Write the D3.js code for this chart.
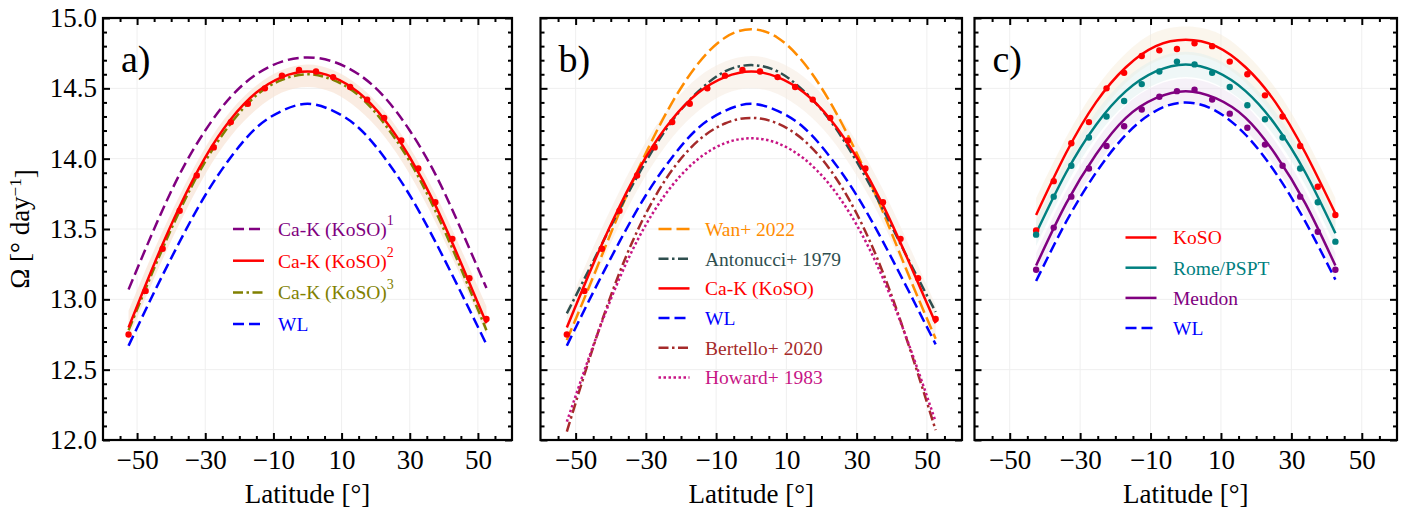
<!DOCTYPE html>
<html>
<head>
<meta charset="utf-8">
<script src="https://cdn.jsdelivr.net/npm/d3@7"></script>
<style>
  body { margin: 0; background: #fff; }
</style>
</head>
<body>
<svg id="chart" width="1409" height="512" font-family="Liberation Serif"></svg>
<script>
// ---- data ----
const latAB = [-52.5, -45, -37.5, -30, -22.5, -15, -7.5, 0, 7.5, 15, 22.5, 30, 37.5, 45, 52.5];
const latC = [-42.5, -34, -25.5, -17, -8.5, 0, 8.5, 17, 25.5, 34, 42.5];

const kosoFit1 = [13.07, 13.50, 13.89, 14.20, 14.44, 14.60, 14.69, 14.72, 14.69, 14.60, 14.44, 14.20, 13.89, 13.50, 13.08];
const kosoFit2 = [12.80, 13.25, 13.66, 14.01, 14.28, 14.47, 14.58, 14.62, 14.58, 14.47, 14.28, 14.01, 13.67, 13.26, 12.83];
const kosoFit3 = [12.78, 13.22, 13.63, 13.98, 14.25, 14.45, 14.56, 14.60, 14.56, 14.45, 14.25, 13.98, 13.63, 13.22, 12.78];
const wlFit = [12.67, 13.05, 13.41, 13.74, 14.01, 14.22, 14.34, 14.39, 14.34, 14.22, 14.01, 13.74, 13.41, 13.05, 12.68];
const kosoBandHiA = [12.92, 13.35, 13.74, 14.08, 14.34, 14.52, 14.63, 14.67, 14.63, 14.52, 14.34, 14.08, 13.75, 13.36, 12.95];
const kosoBandLoA = [12.72, 13.15, 13.54, 13.89, 14.16, 14.35, 14.47, 14.51, 14.47, 14.35, 14.16, 13.89, 13.55, 13.16, 12.75];

const wan2022 = [12.71, 13.16, 13.62, 14.04, 14.40, 14.68, 14.86, 14.92, 14.86, 14.68, 14.40, 14.04, 13.62, 13.16, 12.72];
const antonucci1979 = [12.90, 13.27, 13.64, 13.98, 14.27, 14.48, 14.62, 14.665, 14.62, 14.48, 14.27, 13.98, 13.64, 13.27, 12.91];
const bertello2020 = [12.06, 12.66, 13.19, 13.61, 13.92, 14.13, 14.25, 14.29, 14.25, 14.13, 13.92, 13.61, 13.19, 12.66, 12.07];
const howard1983 = [12.13, 12.67, 13.15, 13.53, 13.81, 14.00, 14.11, 14.145, 14.11, 14.00, 13.81, 13.53, 13.15, 12.67, 12.13];
const kosoBandHiB = [12.93, 13.37, 13.77, 14.12, 14.39, 14.58, 14.69, 14.73, 14.69, 14.58, 14.39, 14.12, 13.78, 13.38, 12.96];
const kosoBandLoB = [12.68, 13.12, 13.53, 13.88, 14.15, 14.34, 14.46, 14.50, 14.46, 14.34, 14.15, 13.88, 13.54, 13.13, 12.71];

const dotLatAB = [-52.5, -47.5, -42.5, -37.5, -32.5, -27.5, -22.5, -17.5, -12.5, -7.5, -2.5,
                  2.5, 7.5, 12.5, 17.5, 22.5, 27.5, 32.5, 37.5, 42.5, 47.5, 52.5];
const kosoDots = [12.75, 13.06, 13.36, 13.63, 13.88, 14.08, 14.26, 14.39, 14.50, 14.59, 14.63,
                  14.62, 14.58, 14.51, 14.42, 14.29, 14.13, 13.93, 13.69, 13.43, 13.15, 12.86];

const kosoC = [13.60, 14.04, 14.40, 14.65, 14.80, 14.845, 14.80, 14.65, 14.40, 14.04, 13.61];
const romeC = [13.47, 13.90, 14.24, 14.48, 14.62, 14.67, 14.62, 14.48, 14.24, 13.90, 13.47];
const meudonC = [13.24, 13.68, 14.03, 14.29, 14.43, 14.48, 14.43, 14.29, 14.03, 13.68, 13.24];
const wlC = [13.13, 13.55, 13.90, 14.17, 14.34, 14.40, 14.34, 14.17, 13.90, 13.55, 13.14];
const kosoBandHiC = [13.72, 14.15, 14.50, 14.75, 14.90, 14.94, 14.90, 14.75, 14.50, 14.15, 13.72];
const kosoBandLoC = [13.48, 13.92, 14.28, 14.54, 14.69, 14.74, 14.69, 14.54, 14.28, 13.92, 13.49];
const romeBandHiC = [13.56, 13.99, 14.33, 14.57, 14.71, 14.76, 14.71, 14.57, 14.33, 13.99, 13.56];
const romeBandLoC = [13.38, 13.81, 14.15, 14.39, 14.53, 14.58, 14.53, 14.39, 14.15, 13.81, 13.38];
const meudonBandHiC = [13.33, 13.77, 14.12, 14.38, 14.52, 14.57, 14.52, 14.38, 14.12, 13.77, 13.33];
const meudonBandLoC = [13.15, 13.59, 13.94, 14.20, 14.34, 14.39, 14.34, 14.20, 13.94, 13.59, 13.15];

const dotLatC = [-42.5, -37.5, -32.5, -27.5, -22.5, -17.5, -12.5, -7.5, -2.5,
                 2.5, 7.5, 12.5, 17.5, 22.5, 27.5, 32.5, 37.5, 42.5];
const kosoDotsC = [13.49, 13.84, 14.11, 14.26, 14.50, 14.61, 14.73, 14.77, 14.78,
                   14.82, 14.80, 14.69, 14.60, 14.45, 14.30, 14.09, 13.80, 13.60];
const romeDotsC = [13.46, 13.73, 13.95, 14.15, 14.30, 14.41, 14.53, 14.62, 14.69,
                   14.67, 14.61, 14.51, 14.38, 14.28, 14.15, 13.93, 13.69, 13.41];
const meudonDotsC = [13.21, 13.51, 13.73, 13.93, 14.09, 14.23, 14.35, 14.44, 14.48,
                     14.49, 14.42, 14.32, 14.22, 14.10, 13.95, 13.73, 13.48, 13.21];

const xTicks = [-50, -30, -10, 10, 30, 50];
const yTicks = [12.0, 12.5, 13.0, 13.5, 14.0, 14.5, 15.0];

// ---- layout ----
const svg = d3.select("#chart");
const plotTop = 18, plotBottom = 440;
const y = d3.scaleLinear().domain([12, 15]).range([plotBottom, plotTop]);
const SERIF = "Liberation Serif";

const DASH = "11,5", LONG = "13,5", DASHDOT = "10,3.5,2.5,3.5", DOT = "2.5,2.5";

const panels = [
  { label: "a)", x0: 103, x1: 512, lat: latAB,
    bands: [{ hi: kosoBandHiA, lo: kosoBandLoA, fill: "#f7e2d2", op: 0.65 }],
    dots: [{ lat: dotLatAB, val: kosoDots, color: "#ff0000" }],
    curves: [
      { v: kosoFit1, color: "#800080", dash: DASH, name: "Ca-K (KoSO)", sup: "1" },
      { v: kosoFit3, color: "#808000", dash: DASHDOT, name: "Ca-K (KoSO)", sup: "3", legendOrder: 2 },
      { v: kosoFit2, color: "#ff0000", dash: null, name: "Ca-K (KoSO)", sup: "2", legendOrder: 1 },
      { v: wlFit, color: "#0000ff", dash: DASH, name: "WL" }
    ],
    legend: { hx: 130, tx: 175, y0: 229, dy: 31.7 } },
  { label: "b)", x0: 540.5, x1: 962, lat: latAB,
    bands: [{ hi: kosoBandHiB, lo: kosoBandLoB, fill: "#f6ece2", op: 0.6 }],
    dots: [{ lat: dotLatAB, val: kosoDots, color: "#ff0000" }],
    curves: [
      { v: wan2022, color: "#ff8c00", dash: LONG, name: "Wan+ 2022" },
      { v: antonucci1979, color: "#2f4f4f", dash: DASHDOT, name: "Antonucci+ 1979" },
      { v: kosoFit2, color: "#ff0000", dash: null, name: "Ca-K (KoSO)" },
      { v: wlFit, color: "#0000ff", dash: DASH, name: "WL" },
      { v: bertello2020, color: "#a52a2a", dash: DASHDOT, name: "Bertello+ 2020" },
      { v: howard1983, color: "#c71585", dash: DOT, name: "Howard+ 1983" }
    ],
    legend: { hx: 118, tx: 164.5, y0: 229, dy: 29.7 } },
  { label: "c)", x0: 974.5, x1: 1397, lat: latC,
    bands: [
      { hi: kosoBandHiC, lo: kosoBandLoC, fill: "#f7ead8", op: 0.45 },
      { hi: romeBandHiC, lo: romeBandLoC, fill: "#dceeee", op: 0.45 },
      { hi: meudonBandHiC, lo: meudonBandLoC, fill: "#ebdff0", op: 0.45 }
    ],
    dots: [
      { lat: dotLatC, val: kosoDotsC, color: "#ff0000" },
      { lat: dotLatC, val: romeDotsC, color: "#008080" },
      { lat: dotLatC, val: meudonDotsC, color: "#800080" }
    ],
    curves: [
      { v: kosoC, color: "#ff0000", dash: null, name: "KoSO" },
      { v: romeC, color: "#008080", dash: null, name: "Rome/PSPT" },
      { v: meudonC, color: "#800080", dash: null, name: "Meudon" },
      { v: wlC, color: "#0000ff", dash: DASH, name: "WL" }
    ],
    legend: { hx: 151, tx: 198.5, y0: 237.5, dy: 30.2 } }
];

const minus = d => d < 0 ? "\u2212" + Math.abs(d) : String(d);

panels.forEach((p, pi) => {
  const x = d3.scaleLinear().domain([-60, 60]).range([p.x0, p.x1]);
  const g = svg.append("g");

  // grid
  g.selectAll(".gx").data(xTicks).join("line")
    .attr("x1", d => x(d)).attr("x2", d => x(d)).attr("y1", plotTop).attr("y2", plotBottom)
    .attr("stroke", "#efefef").attr("stroke-width", 1);
  g.selectAll(".gy").data(yTicks).join("line")
    .attr("x1", p.x0).attr("x2", p.x1).attr("y1", d => y(d)).attr("y2", d => y(d))
    .attr("stroke", "#efefef").attr("stroke-width", 1);

  // bands
  p.bands.forEach(b => {
    const area = d3.area().x((d, i) => x(p.lat[i])).y0((d, i) => y(b.lo[i])).y1((d, i) => y(b.hi[i]))
      .curve(d3.curveNatural);
    g.append("path").attr("d", area(p.lat)).attr("fill", b.fill).attr("fill-opacity", b.op);
  });

  // curves
  p.curves.forEach(c => {
    const line = d3.line().x((d, i) => x(p.lat[i])).y(d => y(d)).curve(d3.curveNatural);
    g.append("path").attr("d", line(c.v)).attr("fill", "none")
      .attr("stroke", c.color).attr("stroke-width", 2.5)
      .attr("stroke-dasharray", c.dash);
  });

  // dots
  p.dots.forEach(s => {
    g.selectAll(null).data(s.val).join("circle")
      .attr("cx", (d, i) => x(s.lat[i])).attr("cy", d => y(d)).attr("r", 3.2)
      .attr("fill", s.color);
  });

  // axes (ticks inward on all four sides)
  const xMinor = d3.range(-55, 60, 5).filter(v => !xTicks.includes(v));
  const yMinor = d3.range(12.1, 15, 0.1).map(v => +v.toFixed(1)).filter(v => !yTicks.includes(v));
  const mk = (axisFn, scale, vals, size, fmt) => axisFn(scale).tickValues(vals).tickSize(-size).tickFormat(fmt);
  const blank = () => "";

  g.append("g").attr("transform", `translate(0,${plotBottom})`)
    .call(mk(d3.axisBottom, x, xTicks, 7, minus).tickPadding(10));
  g.append("g").attr("transform", `translate(0,${plotBottom})`).call(mk(d3.axisBottom, x, xMinor, 4, blank));
  g.append("g").attr("transform", `translate(0,${plotTop})`).call(mk(d3.axisTop, x, xTicks, 7, blank));
  g.append("g").attr("transform", `translate(0,${plotTop})`).call(mk(d3.axisTop, x, xMinor, 4, blank));
  g.append("g").attr("transform", `translate(${p.x0},0)`)
    .call(mk(d3.axisLeft, y, yTicks, 7, pi === 0 ? d3.format(".1f") : blank).tickPadding(6));
  g.append("g").attr("transform", `translate(${p.x0},0)`).call(mk(d3.axisLeft, y, yMinor, 4, blank));
  g.append("g").attr("transform", `translate(${p.x1},0)`).call(mk(d3.axisRight, y, yTicks, 7, blank));
  g.append("g").attr("transform", `translate(${p.x1},0)`).call(mk(d3.axisRight, y, yMinor, 4, blank));

  g.selectAll(".domain").remove();
  g.selectAll("g").attr("font-family", SERIF);
  g.selectAll(".tick line").attr("stroke", "#000").attr("stroke-width", 2);
  g.selectAll(".tick text").attr("font-size", 27).attr("fill", "#000").attr("font-family", SERIF);

  // spine
  g.append("rect").attr("x", p.x0).attr("y", plotTop).attr("width", p.x1 - p.x0).attr("height", plotBottom - plotTop)
    .attr("fill", "none").attr("stroke", "#000").attr("stroke-width", 2.2);

  // panel label
  g.append("text").attr("x", p.x0 + 18).attr("y", 72).attr("font-size", 38)
    .attr("font-family", SERIF).text(p.label);

  // x label
  g.append("text").attr("x", (p.x0 + p.x1) / 2).attr("y", 503).attr("text-anchor", "middle")
    .attr("font-size", 27).attr("font-family", SERIF).text("Latitude [°]");

  // legend
  const entries = p.curves.map((c, i) => ({ ...c, order: c.legendOrder !== undefined ? c.legendOrder : i }))
    .sort((a, b) => a.order - b.order);
  entries.forEach((c, i) => {
    const ey = p.legend.y0 + i * p.legend.dy;
    g.append("line").attr("x1", p.x0 + p.legend.hx).attr("x2", p.x0 + p.legend.hx + 31)
      .attr("y1", ey).attr("y2", ey).attr("stroke", c.color).attr("stroke-width", 2.5)
      .attr("stroke-dasharray", c.dash);
    const t = g.append("text").attr("x", p.x0 + p.legend.tx).attr("y", ey).attr("dy", "0.35em")
      .attr("font-size", 19.5).attr("font-family", SERIF).attr("fill", c.color).text(c.name);
    if (c.sup) t.append("tspan").attr("dy", "-0.75em").attr("font-size", 14).text(c.sup);
  });
});

// y label
const yl = svg.append("text").attr("transform", "translate(29,229) rotate(-90)")
  .attr("text-anchor", "middle").attr("font-size", 27).attr("font-family", SERIF);
yl.append("tspan").text("Ω [° day");
yl.append("tspan").attr("dy", "-0.5em").attr("font-size", 17).text("−1");
yl.append("tspan").attr("dy", "0.5em").text("]");
</script>
</body>
</html>
